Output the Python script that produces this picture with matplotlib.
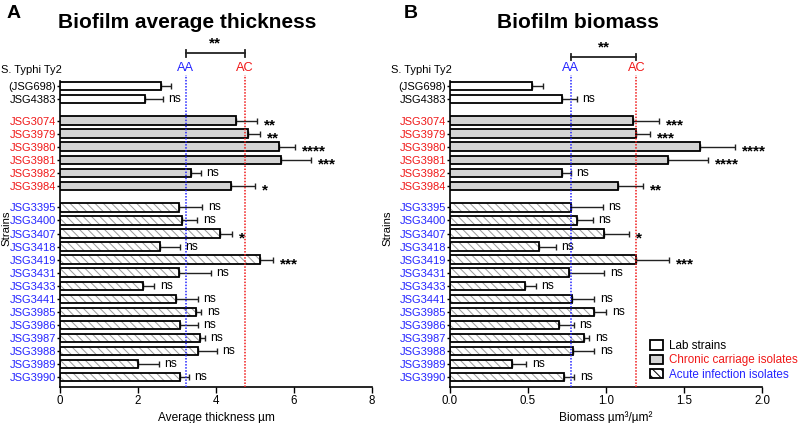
import numpy as np
import matplotlib.pyplot as plt
from matplotlib.patches import Patch
from matplotlib.transforms import blended_transform_factory

plt.rcParams['font.family'] = ['Liberation Sans', 'DejaVu Sans']
plt.rcParams['hatch.linewidth'] = 0.7

# strains, top to bottom
lab_header = "S. Typhi Ty2"
lab_strains = ["(JSG698)", "JSG4383"]
chronic_strains = ["JSG3074", "JSG3979", "JSG3980", "JSG3981", "JSG3982", "JSG3984"]
acute_strains = ["JSG3395", "JSG3400", "JSG3407", "JSG3418", "JSG3419", "JSG3431",
                 "JSG3433", "JSG3441", "JSG3985", "JSG3986", "JSG3987", "JSG3988",
                 "JSG3989", "JSG3990"]

# panel A: average thickness (um)
thick_mean = [2.59, 2.19,
              4.51, 4.82, 5.61, 5.66, 3.36, 4.39,
              3.05, 3.13, 4.10, 2.57, 5.14, 3.06, 2.13, 2.98, 3.48, 3.07, 3.59, 3.53, 2.01, 3.08]
thick_err = [0.25, 0.44,
             0.55, 0.31, 0.41, 0.77, 0.25, 0.60,
             0.60, 0.39, 0.30, 0.50, 0.31, 0.80, 0.29, 0.55, 0.14, 0.46, 0.12, 0.49, 0.52, 0.23]
thick_sig = ["", "ns",
             "**", "**", "****", "***", "ns", "*",
             "ns", "ns", "*", "ns", "***", "ns", "ns", "ns", "ns", "ns", "ns", "ns", "ns", "ns"]
thick_aa = 3.22
thick_ac = 4.75

# panel B: biomass (um3/um2)
mass_mean = [0.527, 0.715,
             1.176, 1.191, 1.603, 1.398, 0.715, 1.080,
             0.775, 0.813, 0.984, 0.570, 1.193, 0.762, 0.482, 0.785, 0.922, 0.696, 0.862, 0.790, 0.399, 0.730]
mass_err = [0.066, 0.096,
            0.164, 0.092, 0.224, 0.256, 0.058, 0.158,
            0.203, 0.101, 0.164, 0.109, 0.209, 0.226, 0.069, 0.139, 0.079, 0.096, 0.030, 0.136, 0.090, 0.068]
mass_sig = ["", "ns",
            "***", "***", "****", "****", "ns", "**",
            "ns", "ns", "*", "ns", "***", "ns", "ns", "ns", "ns", "ns", "ns", "ns", "ns", "ns"]
mass_aa = 0.773
mass_ac = 1.195

RED = '#f01818'
BLUE = '#2424ff'

groups = [lab_strains, chronic_strains, acute_strains]
group_colors = ['black', RED, BLUE]

# y positions with small gaps between groups
pos, labels, colors, kind = [], [], [], []
start = 0
for gi, g in enumerate(groups):
    for i, s in enumerate(g):
        pos.append(start + i)
        labels.append(s)
        colors.append(group_colors[gi])
        kind.append(gi)
    start += len(g) + 0.65
pos = np.array(pos)
kind = np.array(kind)


def draw_panel(ax, means, errs, sig, aa, ac, xmax, xticks, xticklabels, xlabel, bracket_y):
    means = np.array(means)
    errs = np.array(errs)
    h = 0.65
    lab = kind == 0
    chron = kind == 1
    acute = kind == 2
    ax.barh(pos[lab], means[lab], height=h, color='white', edgecolor='black', linewidth=1.3, zorder=3)
    ax.barh(pos[chron], means[chron], height=h, color='#d4d4d4', edgecolor='black', linewidth=1.3, zorder=3)
    ax.barh(pos[acute], means[acute], height=h, color='white', edgecolor='#9a9a9a',
            hatch='\\\\\\\\', linewidth=0, zorder=2)
    ax.barh(pos[acute], means[acute], height=h, fill=False, edgecolor='black', linewidth=1.3, zorder=3)
    ax.errorbar(means, pos, xerr=[np.zeros(len(means)), errs], fmt='none', ecolor='#222222',
                elinewidth=1.0, capsize=2.2, capthick=1.0, zorder=1)

    for m, e, p, s in zip(means, errs, pos, sig):
        if s == "":
            continue
        if s == "ns":
            ax.annotate(s, (m + e, p), xytext=(4, 0), textcoords='offset points',
                        va='center', ha='left', fontsize=8.7)
        else:
            ax.annotate(s, (m + e, p), xytext=(5, -3.2), textcoords='offset points',
                        va='center', ha='left', fontsize=11, fontweight='bold')

    ax.set_xlim(0, xmax)
    ax.set_ylim(23.05, -0.38)
    ax.set_xticks(xticks, xticklabels, fontsize=8.3)
    ax.set_yticks(pos, labels, fontsize=8.0)
    for t, c in zip(ax.get_yticklabels(), colors):
        t.set_color(c)
    ax.tick_params(axis='y', length=2, width=1, pad=0.8)
    ax.tick_params(axis='x', length=4, width=1, pad=2)
    ax.set_xlabel(xlabel, fontsize=8.6, labelpad=3)
    ax.set_ylabel("Strains", fontsize=8.2)
    for sp in ['top', 'right']:
        ax.spines[sp].set_visible(False)
    ax.spines['left'].set_linewidth(1.2)
    ax.spines['bottom'].set_linewidth(1.2)

    ax.text(0.006, pos[0] - 1.2, lab_header, transform=blended_transform_factory(ax.transAxes, ax.transData),
            ha='right', va='center', fontsize=8)

    trans = blended_transform_factory(ax.transData, ax.transAxes)
    ax.plot([aa, aa], [0, 1.02], transform=trans, color=BLUE, ls=(0, (1, 1)), lw=1.1, clip_on=False, zorder=4)
    ax.plot([ac, ac], [0, 1.02], transform=trans, color=RED, ls=(0, (1, 1)), lw=1.1, clip_on=False, zorder=4)
    ax.text(aa, 1.043, "AA", transform=trans, color=BLUE, ha='center', va='center', fontsize=9.2)
    ax.text(ac, 1.043, "AC", transform=trans, color=RED, ha='center', va='center', fontsize=9.2)
    ax.plot([aa, ac], [bracket_y, bracket_y], transform=trans, color='#222222', lw=1.3, clip_on=False)
    for xx in [aa, ac]:
        ax.plot([xx, xx], [bracket_y - 0.011, bracket_y + 0.011], transform=trans,
                color='#222222', lw=1.3, clip_on=False)
    ax.text((aa + ac) / 2, bracket_y + 0.01, "**", transform=trans, ha='center', va='bottom',
            fontsize=11, fontweight='bold')


fig = plt.figure(figsize=(8, 4.23), dpi=100)
ax1 = fig.add_axes([60 / 800, 1 - 387 / 423, 312 / 800, 306 / 423])
ax2 = fig.add_axes([450 / 800, 1 - 387 / 423, 312 / 800, 306 / 423])

draw_panel(ax1, thick_mean, thick_err, thick_sig, thick_aa, thick_ac, 8,
           [0, 2, 4, 6, 8], ["0", "2", "4", "6", "8"], "Average thickness µm", 1.09)
draw_panel(ax2, mass_mean, mass_err, mass_sig, mass_aa, mass_ac, 2.0,
           [0, 0.5, 1.0, 1.5, 2.0], ["0.0", "0.5", "1.0", "1.5", "2.0"], "Biomass µm³/µm²", 1.078)
ax1.yaxis.set_label_coords(-0.157, 0.52)
ax2.yaxis.set_label_coords(-0.183, 0.52)

fig.text(187 / 800, 1 - 22 / 423, "Biofilm average thickness", ha='center', va='center',
         fontsize=15, fontweight='bold')
fig.text(578 / 800, 1 - 22 / 423, "Biofilm biomass", ha='center', va='center',
         fontsize=15, fontweight='bold')
fig.text(7 / 800, 1 - 13 / 423, "A", ha='left', va='center', fontsize=14, fontweight='bold')
fig.text(404 / 800, 1 - 13 / 423, "B", ha='left', va='center', fontsize=14, fontweight='bold')

handles = [Patch(facecolor='white', edgecolor='black', linewidth=1.3),
           Patch(facecolor='#d4d4d4', edgecolor='black', linewidth=1.3),
           Patch(facecolor='white', edgecolor='black', linewidth=1.3, hatch='\\\\\\\\')]
leg = fig.legend(handles, ["Lab strains", "Chronic carriage isolates", "Acute infection isolates"],
                 loc='upper left', bbox_to_anchor=(650 / 800, 1 - 340 / 423), bbox_transform=fig.transFigure,
                 frameon=False, fontsize=8.4, handlelength=1.1, handleheight=0.85, handletextpad=0.5,
                 labelspacing=0.2, borderpad=0, borderaxespad=0)
for t, c in zip(leg.get_texts(), group_colors):
    t.set_color(c)

fig.savefig("out.png", dpi=100)
